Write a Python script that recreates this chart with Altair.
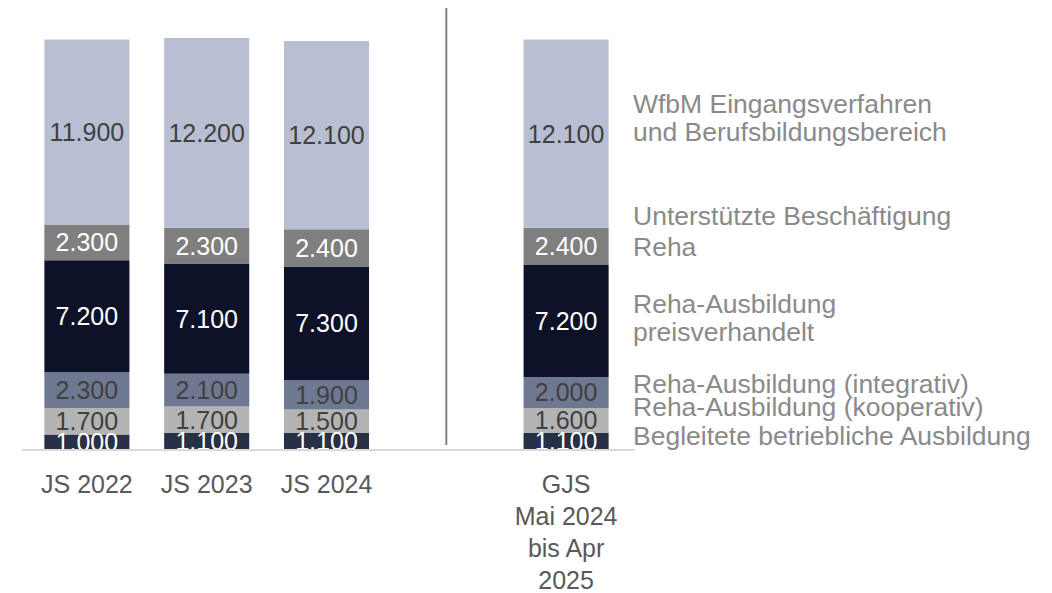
import altair as alt
import pandas as pd

# ---------------- data ----------------
categories = ["JS 2022", "JS 2023", "JS 2024", "GJS|Mai 2024|bis Apr|2025"]
spacer = " "
series = [
    "Begleitete betriebliche Ausbildung",
    "Reha-Ausbildung (kooperativ)",
    "Reha-Ausbildung (integrativ)",
    "Reha-Ausbildung preisverhandelt",
    "Unterstützte Beschäftigung Reha",
    "WfbM Eingangsverfahren und Berufsbildungsbereich",
]
begleitete = [1000, 1100, 1100, 1100]
kooperativ = [1700, 1700, 1500, 1600]
integrativ = [2300, 2100, 1900, 2000]
preisverhandelt = [7200, 7100, 7300, 7200]
ub_reha = [2300, 2300, 2400, 2400]
wfbm = [11900, 12200, 12100, 12100]

legend_lines = [
    "WfbM Eingangsverfahren",
    "und Berufsbildungsbereich",
    "Unterstützte Beschäftigung",
    "Reha",
    "Reha-Ausbildung",
    "preisverhandelt",
    "Reha-Ausbildung (integrativ)",
    "Reha-Ausbildung (kooperativ)",
    "Begleitete betriebliche Ausbildung",
]

# ---------------- styles / layout ----------------
bar_colors = ["#283047", "#b4b4b4", "#6f7891", "#0d1229", "#7f7f7f", "#b9bfd2"]
text_colors = ["#ffffff", "#404040", "#404040", "#ffffff", "#ffffff", "#404040"]
legend_y = [113, 141, 225, 256, 313, 341, 393, 416, 445]
PLOT_W, PLOT_H = 599, 450
PAD = {"left": 27, "top": 0, "right": 1052 - 27 - PLOT_W, "bottom": 593 - PLOT_H}

values_by_series = [begleitete, kooperativ, integrativ, preisverhandelt, ub_reha, wfbm]
rows = []
for si, (s, vals) in enumerate(zip(series, values_by_series)):
    for c, v in zip(categories, vals):
        rows.append({"cat": c, "series": s, "value": v, "ord": si})
df = pd.DataFrame(rows)

x_domain = categories[:3] + [spacer] + categories[3:]
x_scale = alt.Scale(domain=x_domain, paddingInner=0.29, paddingOuter=0.145)
y_scale = alt.Scale(domain=[0, 28940], nice=False, zero=True)

x_enc = alt.X(
    "cat:N",
    scale=x_scale,
    sort=x_domain,
    title=None,
    axis=alt.Axis(
        domain=False,
        ticks=False,
        labelAngle=0,
        labelFont="Liberation Sans",
        labelFontSize=25,
        labelColor="#595959",
        labelPadding=22,
        labelLineHeight=32,
        labelOverlap=False,
        labelExpr="split(datum.label, '|')",
    ),
)

base = alt.Chart(df)

bars = base.mark_bar().encode(
    x=x_enc,
    y=alt.Y("value:Q", stack="zero", scale=y_scale, axis=None),
    color=alt.Color("series:N", scale=alt.Scale(domain=series, range=bar_colors), legend=None),
    order=alt.Order("ord:Q", sort="ascending"),
)

value_labels = (
    base.transform_stack(
        stack="value",
        groupby=["cat"],
        as_=["y0", "y1"],
        sort=[alt.SortField("ord", order="ascending")],
    )
    .transform_calculate(
        mid="(datum.y0 + datum.y1) / 2",
        lbl="replace(format(datum.value, ','), ',', '.')",
    )
    .mark_text(font="Liberation Sans", fontSize=25, baseline="middle", align="center", dy=1)
    .encode(
        x=alt.X("cat:N", scale=x_scale, sort=x_domain, title=None),
        y=alt.Y("mid:Q", scale=y_scale, axis=None),
        text="lbl:N",
        color=alt.Color("series:N", scale=alt.Scale(domain=series, range=text_colors), legend=None),
    )
)

baseline = (
    alt.Chart(pd.DataFrame({"v": [0]}))
    .mark_rule(color="#d9d9d9", strokeWidth=2)
    .encode(x=alt.value(-5), x2=alt.value(608), y=alt.Y("v:Q", scale=y_scale, axis=None))
)

separator = (
    alt.Chart(pd.DataFrame({"cat": [spacer]}))
    .mark_rule(color="#808080", strokeWidth=2)
    .encode(x=alt.X("cat:N", scale=x_scale, sort=x_domain, title=None), y=alt.value(8), y2=alt.value(445))
)

legend_layers = []
for t, py in zip(legend_lines, legend_y):
    legend_layers.append(
        alt.Chart(pd.DataFrame({"t": [t]}))
        .mark_text(font="Liberation Sans", fontSize=26.5, align="left", baseline="alphabetic", color="#8a8a8a")
        .encode(x=alt.value(606), y=alt.value(py), text="t:N")
    )

chart = (
    alt.layer(bars, value_labels, baseline, separator, *legend_layers)
    .resolve_scale(color="independent")
    .properties(
        width=PLOT_W,
        height=PLOT_H,
        padding=PAD,
        autosize=alt.AutoSizeParams(type="none"),
        background="white",
    )
    .configure_view(stroke=None)
)

chart.save("out.html", embed_options={"renderer": "svg", "actions": False})
